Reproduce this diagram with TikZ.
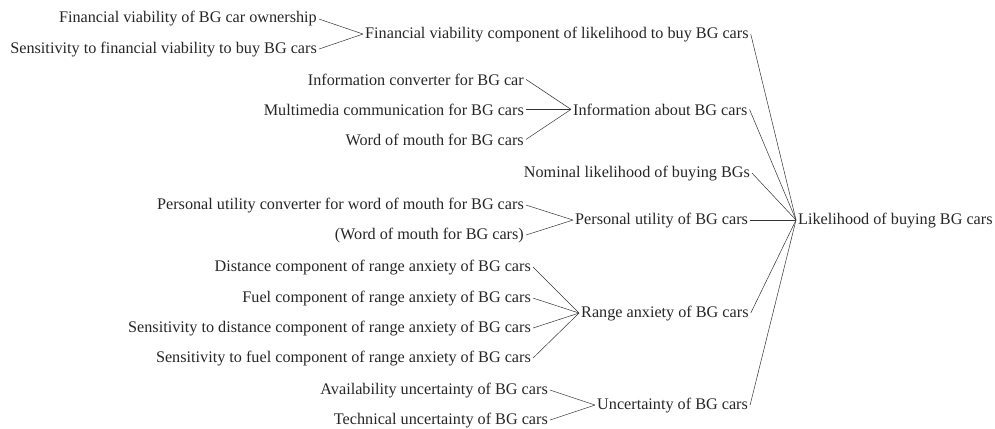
\documentclass[tikz,border=0pt]{standalone}
\usepackage{fontspec}
\setmainfont{Liberation Serif}
\begin{document}
\begin{tikzpicture}[x=1pt,y=-1pt,
  every node/.style={inner sep=2pt,font=\fontsize{16.2}{18}\selectfont,text=black!85},
  src/.style={anchor=base east},
  tgt/.style={anchor=base west},
  link/.style={draw=black!80,line width=0.5pt}]
\useasboundingbox (0,0) rectangle (995,428);
% group 1
\node[src] (fvo) at (319,23) {Financial viability of BG car ownership};
\node[src] (sfv) at (319,53) {Sensitivity to financial viability to buy BG cars};
\node[tgt] (fvc) at (363,38) {Financial viability component of likelihood to buy BG cars};
% group 2
\node[src] (icb) at (526,85) {Information converter for BG car};
\node[src] (mcb) at (526,115) {Multimedia communication for BG cars};
\node[src] (wom) at (526,145) {Word of mouth for BG cars};
\node[tgt] (iab) at (571,115) {Information about BG cars};
% nominal
\node[src] (nl) at (752,177) {Nominal likelihood of buying BGs};
% group 3
\node[src] (puc) at (526,209) {Personal utility converter for word of mouth for BG cars};
\node[src] (wom2) at (526,239) {(Word of mouth for BG cars)};
\node[tgt] (pu) at (573,224) {Personal utility of BG cars};
% group 4
\node[src] (dc) at (533,271) {Distance component of range anxiety of BG cars};
\node[src] (fc) at (533,302) {Fuel component of range anxiety of BG cars};
\node[src] (sdc) at (533,332) {Sensitivity to distance component of range anxiety of BG cars};
\node[src] (sfc) at (533,362) {Sensitivity to fuel component of range anxiety of BG cars};
\node[tgt] (ra) at (579,317) {Range anxiety of BG cars};
% group 5
\node[src] (au) at (550,394) {Availability uncertainty of BG cars};
\node[src] (tu) at (550,424) {Technical uncertainty of BG cars};
\node[tgt] (ub) at (595,409) {Uncertainty of BG cars};
% final
\node[tgt] (lb) at (796,224) {Likelihood of buying BG cars};
% links
\foreach \s in {fvo,sfv} \draw[link] (\s.east) -- (fvc.west);
\foreach \s in {icb,mcb,wom} \draw[link] (\s.east) -- (iab.west);
\foreach \s in {puc,wom2} \draw[link] (\s.east) -- (pu.west);
\foreach \s in {dc,fc,sdc,sfc} \draw[link] (\s.east) -- (ra.west);
\foreach \s in {au,tu} \draw[link] (\s.east) -- (ub.west);
\foreach \s in {fvc,iab,nl,pu,ra,ub} \draw[link] (\s.east) -- (lb.west);
\end{tikzpicture}
\end{document}
